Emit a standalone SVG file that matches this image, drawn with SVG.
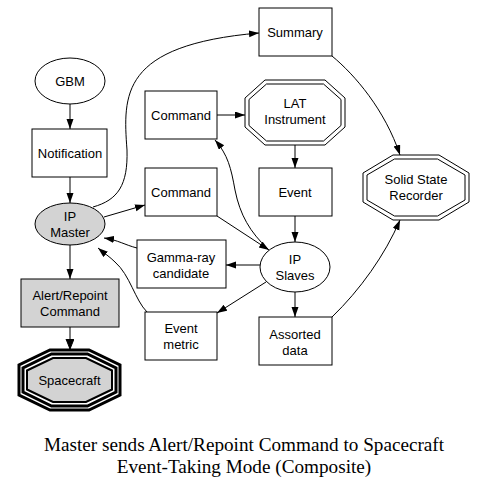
<svg xmlns="http://www.w3.org/2000/svg" width="487" height="488" viewBox="0 0 487 488">
<style>
.n{fill:#fff;stroke:#000;stroke-width:1}
.g{fill:#d3d3d3;stroke:#000;stroke-width:1}
.t{font-family:"Liberation Sans",Arial,sans-serif;font-size:13px;text-anchor:middle;fill:#000}
.e{fill:none;stroke:#000;stroke-width:1}
.cap{font-family:"Liberation Serif","Times New Roman",serif;font-size:19.2px;text-anchor:middle;fill:#000}
</style>
<defs>
<marker id="a" markerUnits="userSpaceOnUse" markerWidth="11" markerHeight="8" refX="10" refY="3.5" orient="auto">
<path d="M0,0 L10,3.5 L0,7 z" fill="#000"/>
</marker>
<marker id="ab" markerUnits="userSpaceOnUse" markerWidth="12" markerHeight="10" refX="10" refY="4" orient="auto">
<path d="M0,0 L10,4 L0,8 z" fill="#000" stroke="#000" stroke-width="1"/>
</marker>
</defs>
<rect width="487" height="488" fill="#fff"/>
<g id="edges">
<path class="e" d="M70,104 L70,129" marker-end="url(#a)"/>
<path class="e" d="M70,177 L70,203" marker-end="url(#a)"/>
<path class="e" d="M93,207 C118,200 128,185 127,150 C123,95 120,45 259,33" marker-end="url(#a)"/>
<path class="e" d="M104,217 L145,205" marker-end="url(#a)"/>
<path class="e" d="M217,216 L269,250" marker-end="url(#a)"/>
<path class="e" d="M268,249 C250,232 240,215 235,190 C231,168 228,155 215,140" marker-end="url(#a)"/>
<path class="e" d="M217,115 L245,115" marker-end="url(#a)"/>
<path class="e" d="M295,145 L295,168" marker-end="url(#a)"/>
<path class="e" d="M295,216 L295,242" marker-end="url(#a)"/>
<path class="e" d="M260,265 L226,265" marker-end="url(#a)"/>
<path class="e" d="M266,282 L217,313" marker-end="url(#a)"/>
<path class="e" d="M295,292 L295,317" marker-end="url(#a)"/>
<path class="e" d="M137,248 C125,245 118,240 104,238" marker-end="url(#a)"/>
<path class="e" d="M147,312 C135,300 130,275 115,262 C110,257 104,253 98,248" marker-end="url(#a)"/>
<path class="e" d="M332,56 C355,75 385,110 400,155" marker-end="url(#a)"/>
<path class="e" d="M332,317 C360,290 385,255 400,220" marker-end="url(#a)"/>
<path class="e" d="M70,245 L70,279" marker-end="url(#a)"/>
<path class="e" d="M70,327 L70,349" stroke-width="3" marker-end="url(#ab)"/>
</g>
<g id="gbm">
<ellipse class="n" cx="70" cy="81" rx="35" ry="23"/>
<text class="t" x="70" y="86">GBM</text>
</g>
<g id="notification">
<rect class="n" x="32" y="129" width="75" height="48"/>
<text class="t" x="70" y="158">Notification</text>
</g>
<g id="ipmaster">
<ellipse class="g" cx="70" cy="224" rx="35" ry="21"/>
<text class="t" x="70" y="221">IP</text>
<text class="t" x="70" y="237">Master</text>
</g>
<g id="command1">
<rect class="n" x="145" y="91" width="72" height="48"/>
<text class="t" x="181" y="120">Command</text>
</g>
<g id="command2">
<rect class="n" x="145" y="168" width="72" height="48"/>
<text class="t" x="181" y="197">Command</text>
</g>
<g id="summary">
<rect class="n" x="259" y="8" width="73" height="48"/>
<text class="t" x="295" y="37">Summary</text>
</g>
<g id="lat">
<polygon class="n" points="265,80 325,80 345,98 345,127 325,145 265,145 245,127 245,98"/>
<polygon class="n" points="266.5,84 323.5,84 341,99.5 341,125.5 323.5,141 266.5,141 249,125.5 249,99.5"/>
<text class="t" x="295" y="108">LAT</text>
<text class="t" x="295" y="124">Instrument</text>
</g>
<g id="event">
<rect class="n" x="259" y="168" width="73" height="48"/>
<text class="t" x="295" y="197">Event</text>
</g>
<g id="ssr">
<polygon class="n" points="393,155 439,155 469,173 469,202 439,220 393,220 363,202 363,173"/>
<polygon class="n" points="394.5,159 437.5,159 465,175 465,200 437.5,216 394.5,216 367,200 367,175"/>
<text class="t" x="416" y="184">Solid State</text>
<text class="t" x="416" y="200">Recorder</text>
</g>
<g id="ipslaves">
<ellipse class="n" cx="295" cy="267" rx="35" ry="25"/>
<text class="t" x="295" y="264">IP</text>
<text class="t" x="295" y="280">Slaves</text>
</g>
<g id="gamma">
<rect class="n" x="137" y="240" width="89" height="48"/>
<text class="t" x="181" y="262">Gamma-ray</text>
<text class="t" x="181" y="278">candidate</text>
</g>
<g id="eventmetric">
<rect class="n" x="145" y="312" width="72" height="48"/>
<text class="t" x="181" y="333">Event</text>
<text class="t" x="181" y="349">metric</text>
</g>
<g id="assorted">
<rect class="n" x="259" y="317" width="73" height="48"/>
<text class="t" x="295" y="339">Assorted</text>
<text class="t" x="295" y="355">data</text>
</g>
<g id="alert">
<rect class="g" x="21" y="279" width="98" height="48"/>
<text class="t" x="70" y="300">Alert/Repoint</text>
<text class="t" x="70" y="316">Command</text>
</g>
<g id="spacecraft">
<polygon points="50,350 89,350 120,365 120,395 89,410 50,410 19,395 19,365" fill="#fff" stroke="#000" stroke-width="3"/>
<polygon points="51.5,354 87.5,354 116,368 116,392 87.5,406 51.5,406 23,392 23,368" fill="#fff" stroke="#000" stroke-width="3"/>
<polygon points="53,358 86,358 112,370.5 112,389.5 86,402 53,402 27,389.5 27,370.5" fill="#d3d3d3" stroke="#000" stroke-width="2"/>
<text class="t" x="69.5" y="385">Spacecraft</text>
</g>
<g id="caption">
<text class="cap" x="244" y="451">Master sends Alert/Repoint Command to Spacecraft</text>
<text class="cap" x="244" y="473">Event-Taking Mode (Composite)</text>
</g>
</svg>
